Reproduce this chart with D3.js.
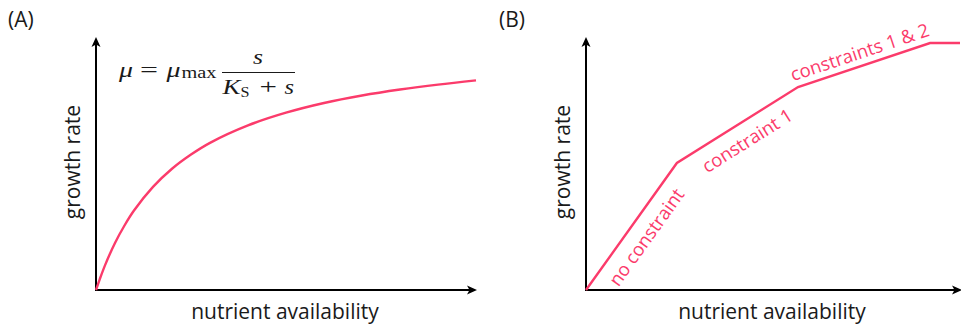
<!DOCTYPE html>
<html>
<head>
<meta charset="utf-8">
<script src="https://cdn.jsdelivr.net/npm/d3@7"></script>
<style>
  html, body { margin: 0; padding: 0; background: #fff; }
  svg { display: block; }
  .lbl { font-family: "Open Sans", sans-serif; fill: #1a1a1a; }
  .math { font-family: "Liberation Serif", "DejaVu Serif", serif; fill: #1a1a1a; }
</style>
</head>
<body>
<svg id="chart" width="961" height="332"></svg>
<script>
// Monod growth curve, sampled values (nutrient availability vs growth rate)
const monodNutrient = [0, 0.1, 0.25, 0.5, 0.75, 1, 1.5, 2, 2.5, 3, 4, 5, 6, 7, 8, 9, 10];
const monodRate     = [0, 0.044, 0.104, 0.189, 0.259, 0.319, 0.414, 0.487, 0.544, 0.591,
                       0.661, 0.712, 0.751, 0.781, 0.805, 0.825, 0.842];

// Piecewise-linear growth under successive constraints
const stepNutrient = [0, 2.43, 5.67, 9.2, 10];
const stepRate     = [0, 0.51, 0.815, 0.992, 0.992];
const segmentLabels = ["no constraint", "constraint 1", "constraints 1 & 2"];
const segmentSide   = [1, 1, -1];   // 1: below the segment, -1: above

const panelTitles = ["(A)", "(B)"];
const xTitle = "nutrient availability";
const yTitle = "growth rate";

const pink = "#fb3b6b";
const svg = d3.select("#chart");

const y = d3.scaleLinear().domain([0, 1]).range([290, 41]);
const xA = d3.scaleLinear().domain([0, 10]).range([96, 476]);
const xB = d3.scaleLinear().domain([0, 10]).range([586, 960]);

// arrowhead
const defs = svg.append("defs");
defs.append("marker")
  .attr("id", "arrow")
  .attr("viewBox", "-5 -5 12 10")
  .attr("refX", 0).attr("refY", 0)
  .attr("markerWidth", 12).attr("markerHeight", 10)
  .attr("markerUnits", "userSpaceOnUse")
  .attr("orient", "auto")
  .append("path")
  .attr("d", "M6,0 L-4,-4.5 L-1.5,0 L-4,4.5 Z")
  .attr("fill", "#000");

function drawAxes(x, tipX, tipY) {
  const ax = x.copy().range([x.range()[0], tipX - 6]);
  const ay = y.copy().range([y.range()[0], tipY + 6]);
  const gx = svg.append("g").attr("transform", `translate(0,${y(0)})`)
    .call(d3.axisBottom(ax).ticks(0).tickSizeOuter(0));
  const gy = svg.append("g").attr("transform", `translate(${x(0)},0)`)
    .call(d3.axisLeft(ay).ticks(0).tickSizeOuter(0));
  [gx, gy].forEach(g => {
    g.select(".domain")
      .attr("stroke", "#000").attr("stroke-width", 2)
      .attr("marker-end", "url(#arrow)");
  });
  gx.select(".domain").attr("d", `M${ax.range()[0] - 1},0H${ax.range()[1]}`);
  gy.select(".domain").attr("d", `M0,${ay.range()[0] + 1}V${ay.range()[1]}`);
}

function drawTitles(x, title, tx) {
  svg.append("text").attr("class", "lbl")
    .attr("x", tx).attr("y", 27).attr("font-size", 21).text(title);
  svg.append("text").attr("class", "lbl")
    .attr("x", (x.range()[0] + x.range()[1]) / 2 - 1).attr("y", 319)
    .attr("text-anchor", "middle").attr("font-size", 21).text(xTitle);
  svg.append("text").attr("class", "lbl")
    .attr("transform", `translate(${x(0) - 16},${162}) rotate(-90)`)
    .attr("text-anchor", "middle").attr("font-size", 21).text(yTitle);
}

// Panel A
drawAxes(xA, 477, 37);
drawTitles(xA, panelTitles[0], 8);

svg.append("path")
  .datum(d3.zip(monodNutrient, monodRate))
  .attr("fill", "none").attr("stroke", pink).attr("stroke-width", 2.4)
  .attr("d", d3.line().x(d => xA(d[0])).y(d => y(d[1])).curve(d3.curveCatmullRom.alpha(0.5)));

// Monod equation: mu = mu_max * s / (K_S + s)
const eq = svg.append("g").attr("class", "math");
function glyph(t, x, yb, size, italic, width) {
  const el = eq.append("text").attr("x", x).attr("y", yb)
    .attr("font-size", size).text(t);
  if (italic) el.attr("font-style", "italic");
  if (width) el.attr("textLength", width).attr("lengthAdjust", "spacingAndGlyphs");
  return el;
}
glyph("μ", 119, 77, 22, true, 14);
glyph("=", 140, 77, 22, false, 18);
glyph("μ", 166.5, 77, 22, true, 14);
glyph("max", 181.5, 78, 16, false, 35);
eq.append("line").attr("x1", 222).attr("x2", 295).attr("y1", 72.5).attr("y2", 72.5)
  .attr("stroke", "#1a1a1a").attr("stroke-width", 1);
glyph("s", 253, 63.5, 22, true, 10);
glyph("K", 222.5, 93.5, 22, true, 18);
glyph("S", 240.5, 96.5, 15, false, 9);
glyph("+", 259.5, 93.5, 22, false, 17.5);
glyph("s", 284.5, 93.5, 22, true, 9.5);

// Panel B
drawAxes(xB, 962, 37);
drawTitles(xB, panelTitles[1], 499);

const stepPts = d3.zip(stepNutrient, stepRate);
svg.append("path")
  .datum(stepPts)
  .attr("fill", "none").attr("stroke", pink).attr("stroke-width", 2.4)
  .attr("stroke-linejoin", "miter")
  .attr("d", d3.line().x(d => xB(d[0])).y(d => y(d[1])));

// labels running along each segment
segmentLabels.forEach((t, i) => {
  const x0 = xB(stepPts[i][0]), y0 = y(stepPts[i][1]);
  const x1 = xB(stepPts[i + 1][0]), y1 = y(stepPts[i + 1][1]);
  const ang = Math.atan2(y1 - y0, x1 - x0) * 180 / Math.PI;
  const dy = segmentSide[i] > 0 ? 25 : -7;
  svg.append("text")
    .attr("transform", `translate(${(x0 + x1) / 2},${(y0 + y1) / 2}) rotate(${ang})`)
    .attr("x", 0).attr("y", dy)
    .attr("text-anchor", "middle")
    .attr("font-family", "Open Sans, sans-serif")
    .attr("font-size", 18.5)
    .attr("fill", pink)
    .text(t);
});
</script>
</body>
</html>
